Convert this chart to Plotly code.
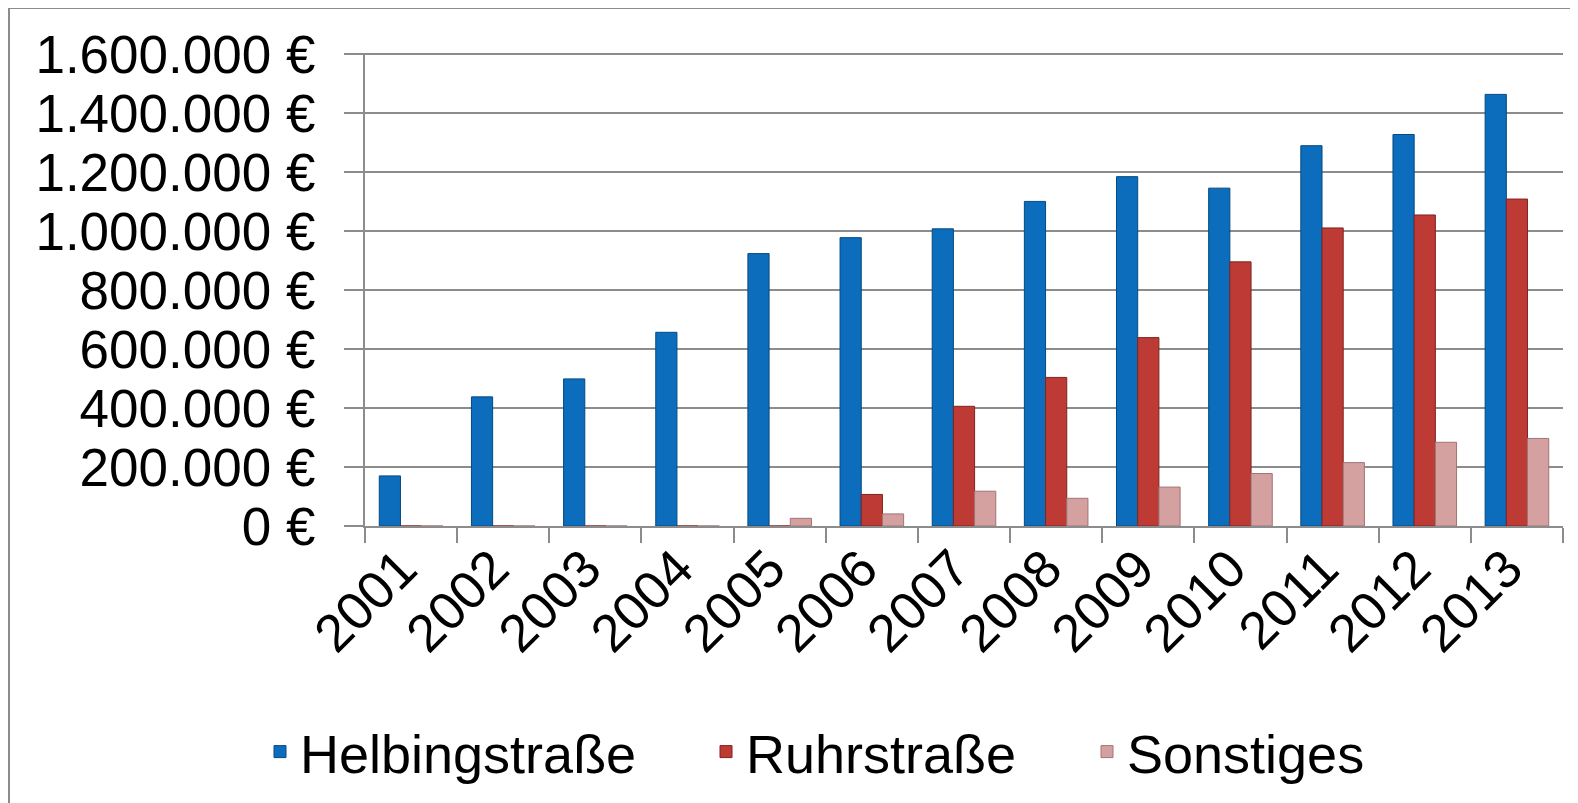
import plotly.graph_objects as go

years = ["2001", "2002", "2003", "2004", "2005", "2006", "2007",
         "2008", "2009", "2010", "2011", "2012", "2013"]
helbing = [170000, 438000, 499000, 657000, 924000, 978000, 1008000,
           1101000, 1185000, 1146000, 1290000, 1328000, 1464000]
ruhr = [0, 0, 0, 0, 0, 107000, 406000, 504000, 639000, 896000,
        1011000, 1055000, 1109000]
sonstiges = [0, 0, 0, 0, 26000, 41000, 118000, 94000, 132000, 178000,
             215000, 284000, 297000]
series_names = ["Helbingstraße", "Ruhrstraße", "Sonstiges"]
y_ticks = [0, 200000, 400000, 600000, 800000, 1000000, 1200000, 1400000, 1600000]
y_tick_text = ["0 €", "200.000 €", "400.000 €", "600.000 €", "800.000 €",
               "1.000.000 €", "1.200.000 €", "1.400.000 €", "1.600.000 €"]

FONT = "Arial, Liberation Sans, sans-serif"
GRID = "#8c8c8c"
W, H = 1578, 803
OFF = 8  # page body margin
L, R, T, B = 357, 23, 45, 285
# plot area in page pixels
PX0 = OFF + L
PX1 = OFF + W - R
PY0 = OFF + T
PY1 = OFF + H - B

fig = go.Figure()
styles = [("#0B6DBB", "#064a82", "legend"),
          ("#BE3A34", "#7e2522", "legend2"),
          ("#D5A0A0", "#a07474", "legend3")]
for name, vals, (fill, edge, lg) in zip(series_names, [helbing, ruhr, sonstiges], styles):
    fig.add_trace(go.Bar(x=years, y=vals, name=name, showlegend=True,
                         marker=dict(color=fill, line=dict(color=edge, width=1)),
                         legend=lg))

legend_common = dict(orientation="h", yanchor="middle", xanchor="left",
                     xref="container", yref="container",
                     font=dict(family=FONT, size=54, color="black"),
                     bgcolor="rgba(0,0,0,0)", borderwidth=0)
ly = 1 - 744 / H
fig.update_layout(
    width=W, height=H, showlegend=True,
    margin=dict(l=L, r=R, t=T, b=B, autoexpand=False),
    paper_bgcolor="white", plot_bgcolor="white",
    barmode="group", bargap=0.31, bargroupgap=0,
    font=dict(family=FONT, size=53, color="black"),
    legend=dict(x=252 / W, y=ly, **legend_common),
    legend2=dict(x=698 / W, y=ly, **legend_common),
    legend3=dict(x=1079 / W, y=ly, **legend_common),
    xaxis=dict(type="category", tickson="boundaries", ticks="outside",
               ticklen=15, tickwidth=2, tickcolor=GRID,
               showline=True, linecolor=GRID, linewidth=2,
               tickangle=-45, showgrid=False,
               ticklabelshift=-10, ticklabelstandoff=-12,
               tickfont=dict(family=FONT, size=53, color="black")),
    yaxis=dict(range=[0, 1604400], tickvals=y_ticks, ticktext=y_tick_text,
               ticks="outside", ticklen=19, tickwidth=2, tickcolor=GRID,
               showgrid=True, gridcolor=GRID, gridwidth=2,
               showline=True, linecolor=GRID, linewidth=2,
               zeroline=False, ticklabelstandoff=18,
               tickfont=dict(family=FONT, size=53, color="black")),
)
pw, ph = PX1 - PX0, PY1 - PY0
fig.add_shape(type="rect", xref="paper", yref="paper",
              x0=(9 - PX0) / pw, x1=(W + 30 - PX0) / pw,
              y0=(PY1 - (H + 30)) / ph, y1=(PY1 - 8) / ph,
              line=dict(color="#8c8c8c", width=2), layer="below")

fig.write_html("out.html")
